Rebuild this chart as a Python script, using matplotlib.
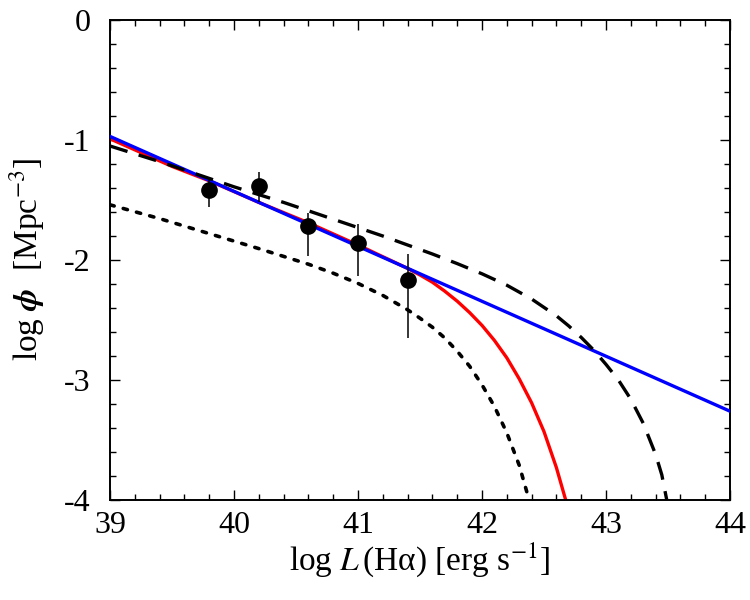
import matplotlib
matplotlib.use("Agg")
import matplotlib.pyplot as plt
from matplotlib.ticker import MultipleLocator

plt.rcParams['font.family'] = ['Liberation Serif', 'DejaVu Serif']
plt.rcParams['mathtext.fontset'] = 'stix'
plt.rcParams['axes.unicode_minus'] = False

# observed points
logL = [39.8, 40.2, 40.6, 41.0, 41.4]
logphi = [-1.42, -1.38, -1.72, -1.86, -2.17]
err_lo = [0.14, 0.14, 0.25, 0.27, 0.48]
err_hi = [0.10, 0.11, 0.11, 0.16, 0.22]

# red curve
red_x = [39.0, 39.5, 39.8, 40.2, 40.6, 41.0, 41.4, 41.5, 41.6, 41.7, 41.8,
         41.9, 42.0, 42.1, 42.2, 42.3, 42.4, 42.5, 42.6, 42.675]
red_y = [-0.99, -1.22, -1.34, -1.52, -1.69, -1.875, -2.07, -2.125, -2.185,
         -2.26, -2.343, -2.438, -2.545, -2.67, -2.815, -2.99, -3.19, -3.43,
         -3.73, -4.0]

# blue line
blue_x = [39.0, 44.0]
blue_y = [-0.97, -3.26]

# dashed curve
dash_x = [39.0, 39.4, 39.8, 40.0, 40.4, 40.8, 41.2, 41.6, 41.8, 42.0, 42.2,
          42.4, 42.6, 42.7, 42.8, 42.9, 43.0, 43.1, 43.2, 43.3, 43.4, 43.45,
          43.49]
dash_y = [-1.05, -1.18, -1.32, -1.39, -1.52, -1.66, -1.80, -1.95, -2.03,
          -2.115, -2.21, -2.325, -2.465, -2.55, -2.645, -2.75, -2.87, -3.00,
          -3.16, -3.36, -3.62, -3.79, -4.0]

# dotted curve
dot_x = [39.0, 39.4, 39.8, 40.2, 40.6, 40.8, 41.0, 41.2, 41.4, 41.5, 41.6,
         41.7, 41.8, 41.9, 42.0, 42.1, 42.2, 42.3, 42.38]
dot_y = [-1.54, -1.655, -1.78, -1.905, -2.035, -2.11, -2.195, -2.295,
         -2.415, -2.485, -2.56, -2.65, -2.76, -2.885, -3.04, -3.22, -3.44,
         -3.71, -4.0]

fig = plt.figure(figsize=(7.5, 6), dpi=100)
ax = fig.add_axes([110/750, 1 - 500/600, 620/750, 480/600])

ax.plot(red_x, red_y, color='#ff0000', lw=2.4, zorder=2)
ax.plot(blue_x, blue_y, color='#0000ff', lw=2.4, zorder=3)
ax.plot(dash_x, dash_y, color='black', lw=2.4, ls=(0, (5.5, 3.5)), zorder=4)
ax.plot(dot_x, dot_y, color='black', lw=2.6, ls=(0, (1.2, 2.6)),
        dash_capstyle='round', zorder=4)
ax.errorbar(logL, logphi, yerr=[err_lo, err_hi], fmt='o', color='black',
            ms=11, elinewidth=1.1, capsize=0, zorder=5)

ax.set_xlim(39, 44)
ax.set_ylim(-4, 0)
ax.xaxis.set_major_locator(MultipleLocator(1))
ax.xaxis.set_minor_locator(MultipleLocator(0.2))
ax.yaxis.set_major_locator(MultipleLocator(1))
ax.yaxis.set_minor_locator(MultipleLocator(0.2))
ax.tick_params(which='both', direction='in', top=True, right=True,
               labelsize=23, width=1.0)
ax.tick_params(axis='y', which='major', length=7, pad=14)
ax.tick_params(axis='x', which='major', length=7, pad=8)
ax.tick_params(which='minor', length=4)
for s in ax.spines.values():
    s.set_linewidth(1.4)

ax.set_xlabel(r'log $L\,$(Hα) [erg s$^{-1}$]', fontsize=24, labelpad=0)
ax.set_ylabel(r'log $\boldsymbol{\phi}$  [Mpc$^{-3}$]', fontsize=24,
              labelpad=12)

fig.savefig('out.png', dpi=100)
